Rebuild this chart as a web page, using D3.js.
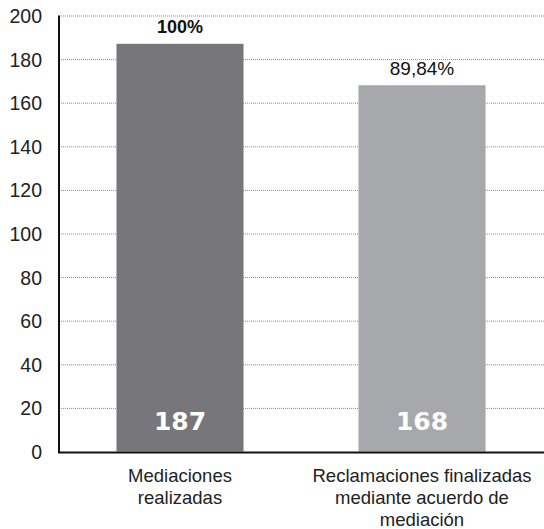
<!DOCTYPE html>
<html>
<head>
<meta charset="utf-8">
<script src="https://cdn.jsdelivr.net/npm/d3@7"></script>
<style>
  html, body { margin: 0; padding: 0; background: #fff; }
  svg { display: block; font-family: "Liberation Sans", Arial, sans-serif; }
</style>
</head>
<body>
<svg id="chart" width="544" height="529"></svg>
<script>
// Mediation results
const categories = ["Mediaciones realizadas", "Reclamaciones finalizadas mediante acuerdo de mediación"];
const categoryLines = [["Mediaciones", "realizadas"], ["Reclamaciones finalizadas", "mediante acuerdo de", "mediación"]];
const values = [187, 168];
const percents = ["100%", "89,84%"];
const yTicks = [0, 20, 40, 60, 80, 100, 120, 140, 160, 180, 200];
const barColors = ["#77777b", "#a7a8ab"];

const svg = d3.select("#chart");
const plotLeft = 59, plotRight = 543, plotTop = 15.5, plotBottom = 451.5;

const x = d3.scaleBand().domain(categories).range([plotLeft, plotRight])
  .paddingInner(0.475).paddingOuter(0.2375);
const y = d3.scaleLinear().domain([0, 200]).range([plotBottom, plotTop]);

// dotted gridlines
svg.append("g").selectAll("line").data(yTicks.filter(d => d > 0)).join("line")
  .attr("x1", plotLeft).attr("x2", 544)
  .attr("y1", d => y(d) + 0.5).attr("y2", d => y(d) + 0.5)
  .attr("stroke", "#8a8a8a").attr("stroke-width", 1)
  .attr("stroke-dasharray", "1,1");

// bars
svg.append("g").selectAll("rect").data(values).join("rect")
  .attr("x", (d, i) => x(categories[i]))
  .attr("width", x.bandwidth())
  .attr("y", d => y(d))
  .attr("height", d => y(0) - y(d))
  .attr("fill", (d, i) => barColors[i]);

// y axis tick labels
const yAxis = d3.axisLeft(y).tickValues(yTicks).tickSize(0).tickPadding(17);
const gy = svg.append("g").attr("transform", `translate(${plotLeft},0)`).call(yAxis);
gy.select(".domain").remove();
gy.selectAll("text").attr("font-size", 19.5).attr("fill", "#222")
  .attr("font-family", "Liberation Sans, Arial, sans-serif").attr("dy", "0.36em");

// axis lines
svg.append("line").attr("x1", plotLeft).attr("x2", plotLeft).attr("y1", plotTop).attr("y2", plotBottom + 1)
  .attr("stroke", "#111").attr("stroke-width", 2);
svg.append("line").attr("x1", plotLeft - 1).attr("x2", 544).attr("y1", plotBottom + 1).attr("y2", plotBottom + 1)
  .attr("stroke", "#111").attr("stroke-width", 2);

// values inside bars
svg.append("g").selectAll("text").data(values).join("text")
  .attr("x", (d, i) => x(categories[i]) + x.bandwidth() / 2)
  .attr("y", 430)
  .attr("text-anchor", "middle")
  .attr("font-family", "DejaVu Sans, sans-serif")
  .attr("font-size", 25).attr("font-weight", "bold").attr("fill", "#fff")
  .text(d => d);

// percent labels above bars
svg.append("g").selectAll("text").data(values).join("text")
  .attr("x", (d, i) => x(categories[i]) + x.bandwidth() / 2)
  .attr("y", d => y(d) - 10.5)
  .attr("text-anchor", "middle")
  .attr("font-size", (d, i) => i === 0 ? 18 : 19)
  .attr("font-weight", (d, i) => i === 0 ? "bold" : "normal")
  .attr("fill", "#111")
  .text((d, i) => percents[i]);

// category labels
const cat = svg.append("g").selectAll("text").data(categoryLines).join("text")
  .attr("text-anchor", "middle")
  .attr("font-size", 18.5).attr("fill", "#222");
cat.each(function(lines, i) {
  const cx = x(categories[i]) + x.bandwidth() / 2;
  d3.select(this).selectAll("tspan").data(lines).join("tspan")
    .attr("x", cx).attr("y", (l, j) => 481.5 + j * 22)
    .text(l => l);
});
</script>
</body>
</html>
